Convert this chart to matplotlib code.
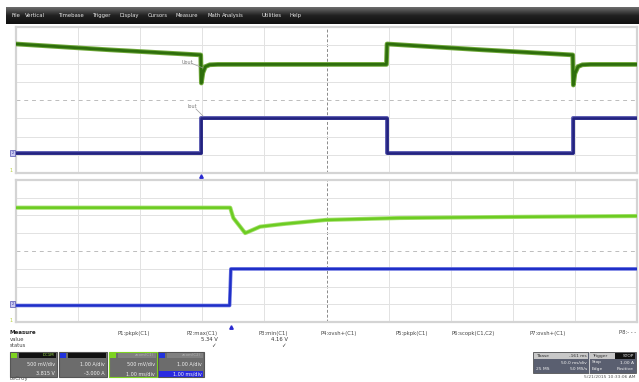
import numpy as np
import matplotlib
matplotlib.use("Agg")
import matplotlib.pyplot as plt
from matplotlib.patches import Rectangle

W, H = 639, 382

# trace data, in screen divisions (x: 0..10, y: -4..4)
top_green_x = [0, 1.5, 2.975, 2.985, 3.01, 3.05, 3.12, 3.25, 5.965, 5.975, 7.5, 8.965, 8.975, 9.0, 9.05, 9.12, 9.25, 10]
top_green_y = [3.07, 2.75, 2.47, 0.93, 1.5, 1.83, 1.93, 1.95, 1.95, 3.07, 2.75, 2.47, 0.82, 1.45, 1.83, 1.93, 1.95, 1.95]
top_blue_x = [0, 2.98, 2.98, 5.97, 5.97, 8.97, 8.97, 10]
top_blue_y = [-2.9, -2.9, -0.99, -0.99, -2.9, -2.9, -0.99, -0.99]

bot_green_x = [0, 3.45, 3.47, 3.5, 3.69, 3.72, 3.93, 4.3, 4.99, 6.18, 8.0, 10]
bot_green_y = [2.44, 2.44, 2.2, 1.86, 1.01, 1.05, 1.37, 1.52, 1.75, 1.86, 1.92, 1.97]
bot_blue_x = [0, 3.44, 3.46, 10]
bot_blue_y = [-3.07, -3.07, -1.01, -1.01]

menu_items = ["File", "Vertical", "Timebase", "Trigger", "Display", "Cursors",
              "Measure", "Math", "Analysis", "Utilities", "Help"]
menu_x = [11, 25, 59, 93, 119, 148, 176, 208, 222, 262, 289]

meas_labels = ["P1:pkpk(C1)", "P2:max(C1)", "P3:min(C1)", "P4:ovsh+(C1)",
               "P5:pkpk(C1)", "P6:scopk(C1,C2)", "P7:ovsh+(C1)", "P8:- - -"]
meas_right = [150, 218, 288, 357, 428, 495, 566, 636]
meas_values = ["", "5.34 V", "4.16 V", "", "", "", "", ""]
meas_status = ["", "✓", "✓", "", "", "", "", ""]


def rect(x0, y0, x1, y1):
    return [x0 / W, 1 - y1 / H, (x1 - x0) / W, (y1 - y0) / H]


fig = plt.figure(figsize=(W / 100, H / 100), dpi=100)
fig.patch.set_facecolor("white")


def panel(box):
    ax = fig.add_axes(rect(*box))
    ax.set_xlim(0, 10)
    ax.set_ylim(-4, 4)
    ax.set_xticks([])
    ax.set_yticks([])
    for s in ax.spines.values():
        s.set_color("#d4d4d4")
        s.set_linewidth(1.6)
    for i in range(1, 10):
        if i == 5:
            ax.axvline(i, color="#8a8a8a", lw=0.7, ls=(0, (3, 2)), zorder=1)
        else:
            ax.axvline(i, color="#e2e2e2", lw=0.7, zorder=1)
    for j in range(-3, 4):
        if j == 0:
            ax.axhline(j, color="#bcbcbc", lw=0.7, ls=(0, (4, 4)), zorder=1)
        else:
            ax.axhline(j, color="#e2e2e2", lw=0.7, zorder=1)
    return ax


ax1 = panel((16, 27, 637, 173))
ax1.plot(top_green_x, top_green_y, color="#6fa83a", lw=3.4, zorder=3)
ax1.plot(top_green_x, top_green_y, color="#2e6e0c", lw=2.0, zorder=4)
ax1.plot(top_blue_x, top_blue_y, color="#5a5ab0", lw=2.8, zorder=3)
ax1.plot(top_blue_x, top_blue_y, color="#22227f", lw=1.8, zorder=4)

ax2 = panel((16, 180, 637, 322))
ax2.plot(bot_green_x, bot_green_y, color="#a6e070", lw=3.0, zorder=3)
ax2.plot(bot_green_x, bot_green_y, color="#6ccc22", lw=1.8, zorder=4)
ax2.plot(bot_blue_x, bot_blue_y, color="#6a74e0", lw=2.6, zorder=3)
ax2.plot(bot_blue_x, bot_blue_y, color="#1f2fc8", lw=1.6, zorder=4)

# overlay in pixel coordinates
ov = fig.add_axes([0, 0, 1, 1], zorder=10)
ov.set_xlim(0, W)
ov.set_ylim(H, 0)
ov.axis("off")
ov.patch.set_alpha(0)

# menu bar
grad = np.linspace(0, 1, 20).reshape(-1, 1)
ov.imshow(grad, cmap=matplotlib.colors.LinearSegmentedColormap.from_list("m", ["#6a6a6a", "#202020", "#111111"]),
          extent=(6, W, 24, 7), aspect="auto", zorder=1)
for name, x in zip(menu_items, menu_x):
    ov.text(x, 15.5, name, color="#e8e8e8", fontsize=3.8, va="center", ha="left", zorder=2)

# trace labels
ov.text(182, 62, "Uout", color="#777777", fontsize=3.5, va="center", ha="left")
ov.plot([192, 203], [63.5, 68], color="#999999", lw=0.5)
ov.text(188, 107, "Iout", color="#777777", fontsize=3.5, va="center", ha="left")
ov.plot([196, 203], [109, 116], color="#999999", lw=0.5)

# channel markers on the left
for y in (153, 304):
    ov.add_patch(Rectangle((10, y - 3), 5, 6, facecolor="#c8c8f0", edgecolor="#3030a0", lw=0.4))
    ov.text(12.5, y, "2", color="#3030a0", fontsize=2.5, ha="center", va="center")
for y in (170, 320):
    ov.text(11.5, y, "1", color="#b8d040", fontsize=3.5, ha="center", va="center")

# trigger markers
ov.plot([201], [175.5], marker="^", color="#2a2ad0", ms=2.5)
ov.plot([231], [327], marker="^", color="#2a2ad0", ms=2.5)

# measure table
ov.text(10, 333, "Measure", color="#222222", fontsize=4, fontweight="bold", va="center")
ov.text(10, 339.5, "value", color="#444444", fontsize=3.8, va="center")
ov.text(10, 345.5, "status", color="#444444", fontsize=3.8, va="center")
for lab, xr, val, st in zip(meas_labels, meas_right, meas_values, meas_status):
    ov.text(xr, 333, lab, color="#444444", fontsize=3.8, ha="right", va="center")
    if val:
        ov.text(xr, 339.5, val, color="#333333", fontsize=3.8, ha="right", va="center")
    if st:
        ov.text(xr - 2, 346, st, color="#333333", fontsize=4, ha="right", va="center",
                family=["DejaVu Sans"])

# channel descriptor boxes
boxes = [
    (10, 57, "#7ed321", "DC1M", "500 mV/div", "3.815 V", False),
    (59, 107, "#2233dd", "", "1.00 A/div", "-3.000 A", False),
    (109, 157, "#7ed321", "zoom(C1)", "500 mV/div", "1.00 ms/div", False),
    (158, 204, "#2233dd", "zoom(C2)", "1.00 A/div", "1.00 ms/div", True),
]
for x0, x1, ccol, htxt, l1, l2, hl in boxes:
    edge = "#7ed321" if ccol == "#7ed321" and x0 > 100 else "#555555"
    ov.add_patch(Rectangle((x0, 352), x1 - x0, 25, facecolor="#6c6c6c", edgecolor=edge, lw=0.8, zorder=2))
    ov.add_patch(Rectangle((x0 + 1, 353), 6, 5, facecolor=ccol, edgecolor="none", zorder=3))
    ov.add_patch(Rectangle((x0 + 9, 353), x1 - x0 - 10, 5, facecolor="#111111" if x0 < 100 else "#808080",
                           edgecolor="none", zorder=3))
    if htxt:
        ov.text(x1 - 3, 355.5, htxt, color="#9ee84a" if x0 < 100 else "#b0b0b0", fontsize=2.8,
                ha="right", va="center", zorder=4)
    if hl:
        ov.add_patch(Rectangle((x0 + 1, 370.5), x1 - x0 - 2, 6, facecolor="#2a2ae0", edgecolor="none", zorder=3))
    ov.text(x1 - 2, 364, l1, color="#f0f0f0", fontsize=3.5, ha="right", va="center", zorder=4)
    ov.text(x1 - 2, 373.5, l2, color="#f0f0f0", fontsize=3.5, ha="right", va="center", zorder=4)

ov.text(10, 378.5, "LeCroy", color="#555555", fontsize=4, va="center")

# timebase / trigger box
ov.add_patch(Rectangle((533, 352), 103, 21, facecolor="#5a5f70", edgecolor="#444444", lw=0.5, zorder=2))
ov.add_patch(Rectangle((534, 353), 54, 5.5, facecolor="#c8c8c8", edgecolor="none", zorder=3))
ov.add_patch(Rectangle((590, 353), 45, 5.5, facecolor="#c8c8c8", edgecolor="none", zorder=3))
ov.add_patch(Rectangle((615, 353), 20, 5.5, facecolor="#111111", edgecolor="none", zorder=3))
ov.plot([589, 589], [352, 373], color="#dddddd", lw=0.6, zorder=4)
tb = [
    (536, 355.8, "Tbase", "left", "#333333"), (587, 355.8, "-161 ms", "right", "#333333"),
    (592, 355.8, "Trigger", "left", "#333333"), (634, 355.8, "STOP", "right", "#dddddd"),
    (587, 362.5, "50.0 ms/div", "right", "#f0f0f0"), (592, 362.5, "Stop", "left", "#f0f0f0"),
    (634, 362.5, "1.00 A", "right", "#f0f0f0"),
    (536, 369, "25 MS", "left", "#f0f0f0"), (587, 369, "50 MS/s", "right", "#f0f0f0"),
    (592, 369, "Edge", "left", "#f0f0f0"), (634, 369, "Positive", "right", "#f0f0f0"),
]
for x, y, t, ha, c in tb:
    ov.text(x, y, t, color=c, fontsize=3.2, ha=ha, va="center", zorder=5)
ov.text(636, 377.5, "5/21/2015 10:33:06 AM", color="#555555", fontsize=3.2, ha="right", va="center")

fig.savefig("out.png", dpi=100)
